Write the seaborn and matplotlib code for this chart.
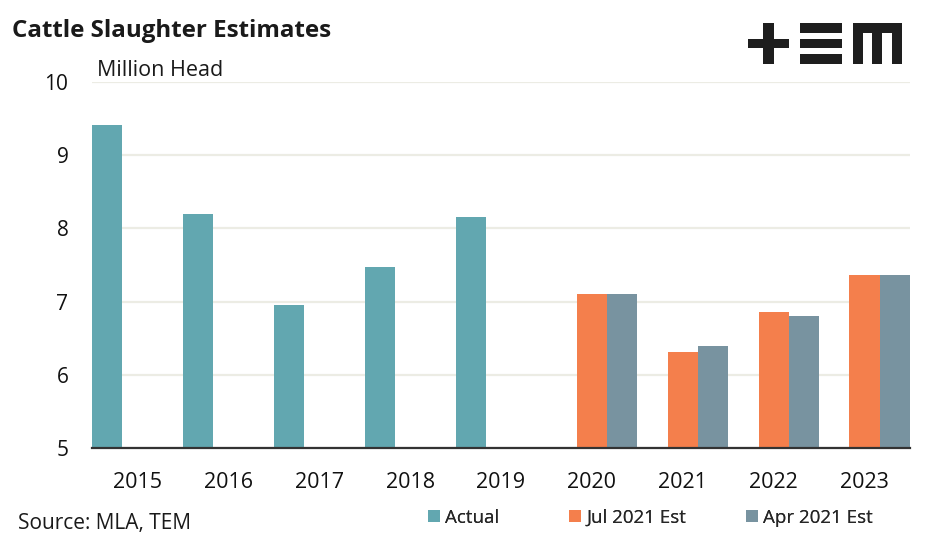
import matplotlib
matplotlib.use("Agg")
import matplotlib.pyplot as plt
from matplotlib.patches import Rectangle, Patch
import seaborn as sns
import pandas as pd

years = ["2015", "2016", "2017", "2018", "2019", "2020", "2021", "2022", "2023"]
series = ["Actual", "Jul 2021 Est", "Apr 2021 Est"]
actual = [9.41, 8.19, 6.96, 7.47, 8.15, None, None, None, None]
jul_est = [None, None, None, None, None, 7.11, 6.31, 6.86, 7.36]
apr_est = [None, None, None, None, None, 7.11, 6.40, 6.80, 7.36]
colors = ["#62A7B0", "#F47F4C", "#7893A0"]

rows = []
for name, vals in zip(series, [actual, jul_est, apr_est]):
    for y, v in zip(years, vals):
        if v is not None:
            rows.append({"Year": y, "Series": name, "Value": v})
df = pd.DataFrame(rows)

sns.set_theme(style="white")
plt.rcParams["font.family"] = ["Open Sans", "DejaVu Sans"]

fig = plt.figure(figsize=(9.47, 5.43), dpi=100)
ax = fig.add_axes([92/947, 95/543, 818/947, 366/543])

sns.barplot(data=df, x="Year", y="Value", hue="Series", order=years,
            hue_order=series, palette=colors, width=1.0, linewidth=0,
            saturation=1, ax=ax, legend=False)

ax.set_ylim(5, 10)
ax.set_xlim(-0.5, 8.5)
ax.set_yticks([5, 6, 7, 8, 9, 10])
ax.set_yticklabels(["5", "6", "7", "8", "9", "10"])
ax.yaxis.grid(True, color="#ECECE4", linewidth=1.6)
ax.set_axisbelow(True)
for s in ["top", "right", "left"]:
    ax.spines[s].set_visible(False)
ax.spines["bottom"].set_color("#333333")
ax.spines["bottom"].set_linewidth(1.6)
ax.tick_params(axis="y", length=0, pad=17, labelsize=15, labelcolor="#111111")
ax.tick_params(axis="x", length=0, pad=17, labelsize=15.5, labelcolor="#111111")
ax.set_xlabel("")
ax.set_ylabel("")

fig.text(12/947, 1 - 31/543, "Cattle Slaughter Estimates", fontsize=17.4,
         fontweight="bold", va="center", ha="left", color="#1a1a1a")
fig.text(97/947, 1 - 70/543, "Million Head", fontsize=15.5, va="center",
         ha="left", color="#1a1a1a")
fig.text(18/947, 1 - 524/543, "Source: MLA, TEM", fontsize=15, va="center",
         ha="left", color="#1a1a1a")

leg_x = [428, 569, 746]
for c, name, x in zip(colors, series, leg_x):
    leg = fig.legend([Patch(facecolor=c, edgecolor="none")], [name],
                     loc="center left", bbox_to_anchor=(x/947, 1 - 518/543),
                     frameon=False, fontsize=13.5, handlelength=0.62,
                     handleheight=0.62, handletextpad=0.3, borderaxespad=0,
                     borderpad=0)
    fig.add_artist(leg)

# logo
logo_color = "#1e1e1e"
def rect(x0, y0, x1, y1):
    fig.patches.append(Rectangle((x0/947, 1 - y1/543), (x1 - x0)/947,
                                 (y1 - y0)/543, transform=fig.transFigure,
                                 facecolor=logo_color, edgecolor="none"))
rect(763, 23, 774, 64)
rect(748, 39, 789, 48)
rect(800, 23, 842, 33)
rect(800, 39, 842, 48)
rect(800, 54, 842, 64)
rect(853, 23, 902, 33)
rect(853, 23, 863, 64)
rect(872, 23, 882, 64)
rect(892, 23, 902, 64)

fig.savefig("out.png", dpi=100)
